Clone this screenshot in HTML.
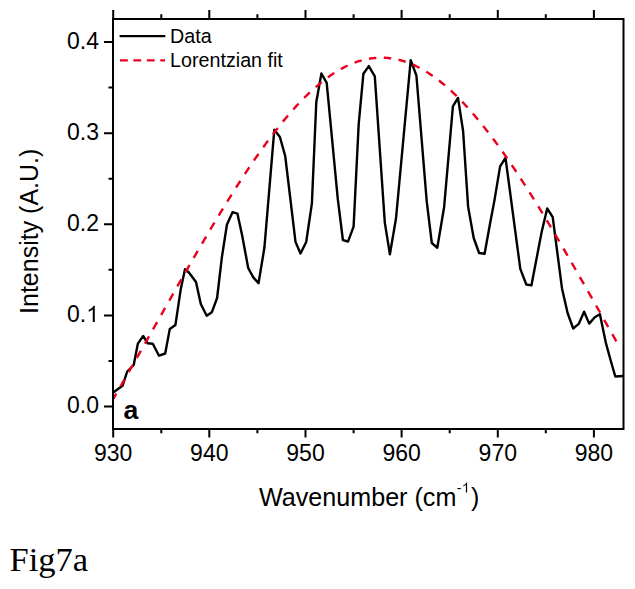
<!DOCTYPE html>
<html><head><meta charset="utf-8"><style>
html,body{margin:0;padding:0;background:#fff;}
svg{display:block;}
text{font-family:"Liberation Sans",sans-serif;fill:#000;}
</style></head><body>
<svg width="635" height="589" viewBox="0 0 635 589">
<rect width="635" height="589" fill="#fff"/>
<path d="M113.6,392.3 L122.5,385.8 L127.2,371.5 L133.7,365.0 L137.9,343.6 L143.2,335.9 L147.7,343.3 L152.8,343.8 L159.0,355.7 L165.2,353.5 L169.8,328.9 L175.4,325.1 L180.8,288.9 L185.0,269.3 L188.9,272.5 L196.0,282.0 L200.8,304.0 L206.7,315.8 L211.8,312.3 L217.1,298.0 L221.8,257.8 L226.9,224.7 L232.5,212.2 L237.4,213.6 L242.2,235.7 L248.2,268.0 L253.3,277.4 L258.5,283.3 L264.4,247.8 L274.3,129.8 L279.9,137.0 L285.2,156.0 L295.5,241.9 L300.5,253.5 L306.2,242.0 L311.9,203.3 L316.3,102.0 L321.4,73.5 L326.7,82.9 L337.8,199.2 L342.9,240.0 L348.0,241.6 L353.6,226.6 L358.7,124.0 L363.4,73.7 L368.8,66.1 L374.8,76.3 L384.8,222.6 L389.9,254.2 L396.0,218.5 L410.7,60.2 L416.4,75.5 L426.7,201.2 L431.8,243.0 L437.3,247.8 L444.1,207.3 L452.9,106.4 L458.0,97.9 L463.1,131.0 L468.1,206.6 L473.7,238.0 L479.1,253.0 L484.6,253.8 L490.2,222.7 L494.4,200.6 L500.1,166.4 L505.5,157.9 L520.3,268.9 L526.3,284.5 L531.4,285.4 L541.6,232.3 L547.2,208.5 L552.7,217.1 L562.0,288.4 L567.6,313.0 L573.2,328.5 L578.7,323.9 L584.1,311.7 L589.2,323.6 L594.8,317.2 L599.9,314.2 L605.8,342.6 L610.9,361.3 L615.3,376.5 L623.0,376.0" fill="none" stroke="#000" stroke-width="2.4" stroke-linejoin="round"/>
<path d="M113.00,399.33 L113.67,398.17 L114.35,397.01 L115.02,395.85 L115.69,394.69 L116.37,393.53 M120.49,386.40 L121.30,384.98 L122.12,383.56 L122.94,382.14 L123.75,380.72 L124.57,379.30 M128.67,372.15 L129.48,370.73 L130.30,369.31 L131.11,367.89 L131.92,366.47 L132.74,365.04 M136.82,357.88 L137.63,356.46 L138.44,355.04 L139.25,353.61 L140.06,352.19 L140.87,350.76 M144.94,343.59 L145.75,342.17 L146.56,340.74 L147.37,339.32 L148.17,337.89 L148.98,336.46 M153.05,329.29 L153.85,327.86 L154.66,326.44 L155.47,325.01 L156.27,323.59 L157.08,322.16 M161.14,314.98 L161.95,313.56 L162.76,312.13 L163.57,310.70 L164.37,309.28 L165.18,307.85 M169.25,300.68 L170.06,299.25 L170.86,297.83 L171.67,296.40 L172.48,294.98 L173.29,293.55 M177.37,286.39 L178.18,284.96 L178.99,283.54 L179.80,282.12 L180.61,280.70 L181.43,279.27 M185.52,272.12 L186.33,270.70 L187.15,269.28 L187.96,267.86 L188.78,266.44 L189.60,265.02 M193.71,257.88 L194.53,256.47 L195.35,255.05 L196.17,253.64 L197.00,252.22 L197.82,250.81 M201.97,243.70 L202.79,242.28 L203.62,240.87 L204.45,239.46 L205.28,238.05 L206.11,236.64 M210.30,229.57 L211.14,228.16 L211.97,226.76 L212.81,225.36 L213.65,223.95 L214.49,222.55 M218.73,215.51 L219.58,214.12 L220.42,212.72 L221.27,211.33 L222.12,209.94 L222.98,208.54 M227.28,201.56 L228.14,200.17 L229.00,198.79 L229.86,197.41 L230.73,196.02 L231.59,194.64 M235.97,187.72 L236.85,186.35 L237.73,184.98 L238.61,183.61 L239.49,182.24 L240.37,180.88 M244.84,174.03 L245.74,172.68 L246.64,171.32 L247.54,169.97 L248.44,168.62 L249.34,167.27 M253.92,160.53 L254.84,159.19 L255.76,157.86 L256.69,156.53 L257.61,155.20 L258.54,153.88 M263.25,147.25 L264.20,145.94 L265.15,144.63 L266.10,143.33 L267.05,142.03 L268.01,140.73 M272.88,134.25 L273.86,132.98 L274.84,131.70 L275.83,130.43 L276.81,129.17 L277.81,127.90 M282.86,121.62 L283.88,120.38 L284.90,119.15 L285.93,117.92 L286.96,116.70 L287.99,115.49 M293.27,109.45 L294.33,108.26 L295.40,107.08 L296.47,105.91 L297.55,104.75 L298.64,103.59 M304.18,97.87 L305.30,96.76 L306.42,95.65 L307.55,94.55 L308.69,93.46 L309.83,92.38 M315.68,87.09 L316.86,86.06 L318.06,85.05 L319.25,84.05 L320.46,83.06 L321.67,82.09 M327.88,77.36 L329.13,76.46 L330.40,75.58 L331.67,74.71 L332.95,73.85 L334.24,73.02 M340.84,69.06 L342.18,68.33 L343.52,67.62 L344.87,66.93 L346.23,66.25 L347.60,65.60 M354.59,62.67 L356.01,62.16 L357.42,61.68 L358.85,61.22 L360.28,60.78 L361.72,60.38 M369.02,58.75 L370.49,58.51 L371.96,58.30 L373.43,58.13 L374.91,57.98 L376.38,57.86 M383.82,57.74 L385.30,57.80 L386.78,57.90 L388.26,58.03 L389.73,58.19 L391.20,58.38 M398.54,59.78 L399.99,60.14 L401.43,60.53 L402.86,60.95 L404.29,61.40 L405.71,61.87 M412.77,64.61 L414.15,65.22 L415.52,65.86 L416.88,66.52 L418.24,67.20 L419.59,67.90 M426.25,71.71 L427.56,72.52 L428.85,73.34 L430.13,74.19 L431.41,75.05 L432.68,75.92 M438.95,80.54 L440.17,81.50 L441.39,82.47 L442.60,83.45 L443.80,84.44 L444.99,85.45 M450.90,90.66 L452.05,91.73 L453.20,92.81 L454.34,93.89 L455.47,94.98 L456.60,96.08 M462.19,101.74 L463.28,102.89 L464.37,104.05 L465.45,105.21 L466.53,106.37 L467.60,107.55 M472.92,113.54 L473.96,114.75 L475.00,115.96 L476.03,117.18 L477.06,118.41 L478.08,119.64 M483.17,125.89 L484.17,127.14 L485.16,128.40 L486.16,129.66 L487.14,130.93 L488.13,132.20 M493.02,138.65 L493.99,139.94 L494.95,141.24 L495.90,142.54 L496.86,143.84 L497.81,145.15 M502.54,151.75 L503.48,153.07 L504.41,154.40 L505.33,155.72 L506.26,157.05 L507.18,158.38 M511.78,165.11 L512.69,166.46 L513.59,167.80 L514.50,169.15 L515.40,170.50 L516.30,171.86 M520.79,178.69 L521.67,180.05 L522.56,181.41 L523.44,182.78 L524.32,184.15 L525.20,185.52 M529.59,192.43 L530.46,193.81 L531.33,195.19 L532.19,196.57 L533.06,197.95 L533.92,199.33 M538.23,206.31 L539.09,207.70 L539.94,209.09 L540.79,210.48 L541.64,211.88 L542.49,213.27 M546.74,220.30 L547.58,221.70 L548.42,223.10 L549.26,224.50 L550.10,225.91 L550.94,227.31 M555.13,234.38 L555.97,235.79 L556.80,237.20 L557.63,238.61 L558.46,240.02 L559.28,241.43 M563.44,248.53 L564.26,249.95 L565.08,251.36 L565.91,252.78 L566.73,254.19 L567.55,255.61 M571.67,262.74 L572.49,264.16 L573.30,265.58 L574.12,267.00 L574.94,268.42 L575.75,269.84 M579.85,276.99 L580.66,278.41 L581.47,279.83 L582.29,281.26 L583.10,282.68 L583.91,284.10 M587.99,291.26 L588.80,292.69 L589.61,294.11 L590.42,295.54 L591.22,296.96 L592.03,298.39 M596.10,305.56 L596.91,306.99 L597.72,308.41 L598.52,309.84 L599.33,311.27 L600.14,312.69 M604.20,319.87 L605.01,321.29 L605.82,322.72 L606.62,324.15 L607.43,325.57 L608.24,327.00 M612.30,334.17 L613.11,335.60 L613.92,337.03 L614.72,338.45 L615.53,339.88 L616.34,341.30" fill="none" stroke="#eb001e" stroke-width="2.4"/>
<path d="M113,19 H623.5 V429 H113 Z" fill="none" stroke="#000" stroke-width="2"/>
<path d="M113.2,429 V437.5 M113.2,19 V10.0 M161.3,429 V433.2 M161.3,19 V14.3 M209.3,429 V437.5 M209.3,19 V10.0 M257.4,429 V433.2 M257.4,19 V14.3 M305.5,429 V437.5 M305.5,19 V10.0 M353.6,429 V433.2 M353.6,19 V14.3 M401.6,429 V437.5 M401.6,19 V10.0 M449.7,429 V433.2 M449.7,19 V14.3 M497.8,429 V437.5 M497.8,19 V10.0 M545.8,429 V433.2 M545.8,19 V14.3 M593.9,429 V437.5 M593.9,19 V10.0 M113,406.5 H104 M113,360.9 H108.5 M113,315.4 H104 M113,269.8 H108.5 M113,224.3 H104 M113,178.8 H108.5 M113,133.2 H104 M113,87.6 H108.5 M113,42.1 H104" fill="none" stroke="#000" stroke-width="2"/>
<g font-size="23"><text x="113.2" y="461" text-anchor="middle">930</text><text x="209.3" y="461" text-anchor="middle">940</text><text x="305.5" y="461" text-anchor="middle">950</text><text x="401.6" y="461" text-anchor="middle">960</text><text x="497.8" y="461" text-anchor="middle">970</text><text x="593.9" y="461" text-anchor="middle">980</text><text x="99" y="413.2" text-anchor="end">0.0</text><text x="99" y="231.0" text-anchor="end">0.2</text><text x="99" y="139.9" text-anchor="end">0.3</text><text x="99" y="48.8" text-anchor="end">0.4</text><text x="86.21" y="322.1" text-anchor="end">0.</text><path d="M94.78,322.10 L92.76,322.10 L92.76,309.22 L92.03,309.91 L91.06,310.61 L89.92,311.29 L88.72,311.77 L88.72,309.81 L90.40,309.03 L91.49,308.29 L92.40,307.38 L93.10,306.38 L93.66,305.64 L94.78,305.64 Z" fill="#000"/></g>
<path d="M119.6,36.1 H165.3" stroke="#000" stroke-width="2.3"/>
<path d="M120,60.4 H165" stroke="#eb001e" stroke-width="2.2" stroke-dasharray="7.8 5.6"/>
<g font-size="19.7"><text x="170.1" y="42.6">Data</text><text x="170.1" y="66.5">Lorentzian fit</text></g>
<text x="123.6" y="418.6" font-size="26.6" font-weight="bold">a</text>
<text font-size="25.13" x="259" y="506">Wavenumber (cm</text><text font-size="14" x="456.7" y="493.1">-</text><path d="M467.12,492.60 L465.89,492.60 L465.89,484.76 L465.44,485.18 L464.85,485.61 L464.16,486.02 L463.42,486.31 L463.42,485.12 L464.45,484.64 L465.11,484.19 L465.67,483.64 L466.09,483.03 L466.43,482.58 L467.12,482.58 Z" fill="#000"/><text font-size="25" x="470.9" y="506">)</text>
<text font-size="25" transform="translate(38.1,231.3) rotate(-90)" text-anchor="middle">Intensity (A.U.)</text>
<text x="9.5" y="570.6" font-size="34.5" style="font-family:'Liberation Serif',serif">Fig7a</text>
</svg>
</body></html>
